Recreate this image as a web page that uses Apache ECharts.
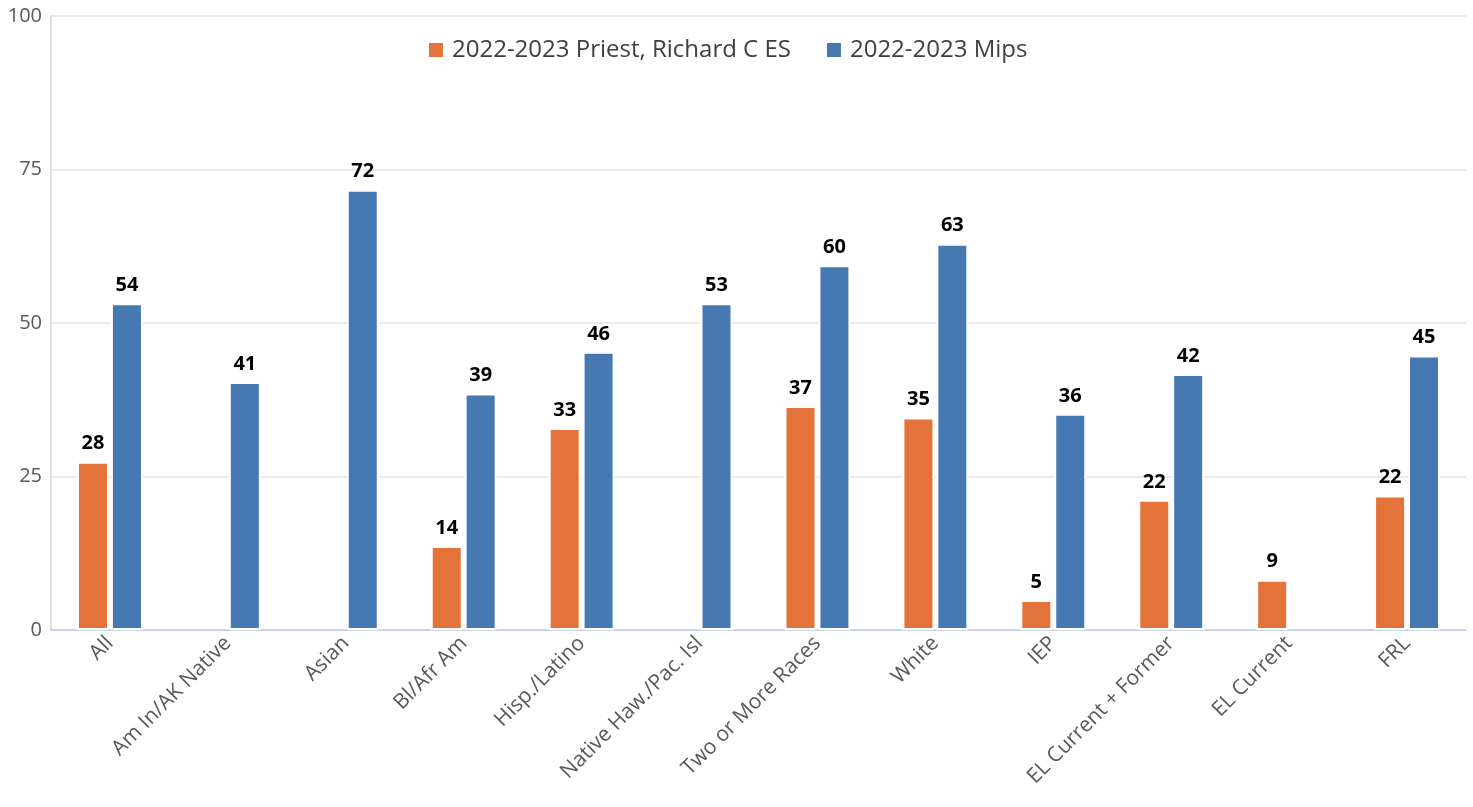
<!DOCTYPE html>
<html>
<head>
<meta charset="utf-8">
<script src="https://cdn.jsdelivr.net/npm/echarts@6/dist/echarts.min.js"></script>
<style>
  html, body { margin: 0; padding: 0; background: #ffffff; }
  #chart { width: 1473px; height: 807px; }
</style>
</head>
<body>
<div id="chart"></div>
<script>
const categories = ["All", "Am In/AK Native", "Asian", "Bl/Afr Am", "Hisp./Latino", "Native Haw./Pac. Isl", "Two or More Races", "White", "IEP", "EL Current + Former", "EL Current", "FRL"];
const seriesNames = ["2022-2023 Priest, Richard C ES", "2022-2023 Mips"];
const priestValues = [27.4, null, null, 13.7, 32.9, null, 36.5, 34.6, 4.9, 21.2, 8.2, 21.9];
const priestLabels = ["28", "", "", "14", "33", "", "37", "35", "5", "22", "9", "22"];
const mipsValues = [53.2, 40.4, 71.7, 38.5, 45.3, 53.2, 59.4, 62.9, 35.2, 41.7, null, 44.7];
const mipsLabels = ["54", "41", "72", "39", "46", "53", "60", "63", "36", "42", "", "45"];
const yTicks = [0, 25, 50, 75, 100];

const FONT = "'Open Sans', 'Noto Sans', sans-serif";
const labelStyle = (labels) => ({
  show: true,
  position: 'top',
  distance: 8,
  color: '#000000',
  fontFamily: FONT,
  fontWeight: 'bold',
  fontSize: 20,
  formatter: (p) => labels[p.dataIndex]
});

const chart = echarts.init(document.getElementById('chart'), null, { renderer: 'canvas' });
chart.setOption({
  animation: false,
  backgroundColor: '#ffffff',
  color: ['#e4733a', '#4679b2'],
  legend: {
    left: 422,
    top: 33,
    itemWidth: 16,
    itemHeight: 16,
    itemGap: 34,
    icon: 'rect',
    textStyle: { fontFamily: FONT, fontSize: 24, color: '#404040', padding: [0, 0, 0, 3] },
    data: seriesNames
  },
  grid: { left: 51, right: 7, top: 16, bottom: 177, containLabel: false },
  xAxis: {
    type: 'category',
    data: categories,
    axisLine: { show: true, lineStyle: { color: '#cad4e6', width: 2 } },
    axisTick: { show: false },
    axisLabel: {
      rotate: 45,
      interval: 0,
      margin: 10,
      color: '#595959',
      fontFamily: FONT,
      fontSize: 21
    }
  },
  yAxis: {
    type: 'value',
    min: yTicks[0],
    max: yTicks[yTicks.length - 1],
    interval: 25,
    axisLine: { show: true, lineStyle: { color: '#d9d9d9', width: 1.5 } },
    axisTick: { show: false },
    splitLine: { show: true, lineStyle: { color: '#e3e3e3', width: 1.5 } },
    axisLabel: { color: '#595959', fontFamily: FONT, fontSize: 20, margin: 9 }
  },
  series: [
    {
      name: seriesNames[0],
      type: 'bar',
      data: priestValues,
      barWidth: 32,
      barGap: '6%',
      itemStyle: { borderColor: '#ffffff', borderWidth: 2 },
      label: labelStyle(priestLabels)
    },
    {
      name: seriesNames[1],
      type: 'bar',
      data: mipsValues,
      barWidth: 32,
      barGap: '6%',
      itemStyle: { borderColor: '#ffffff', borderWidth: 2 },
      label: labelStyle(mipsLabels)
    }
  ]
});
</script>
</body>
</html>
